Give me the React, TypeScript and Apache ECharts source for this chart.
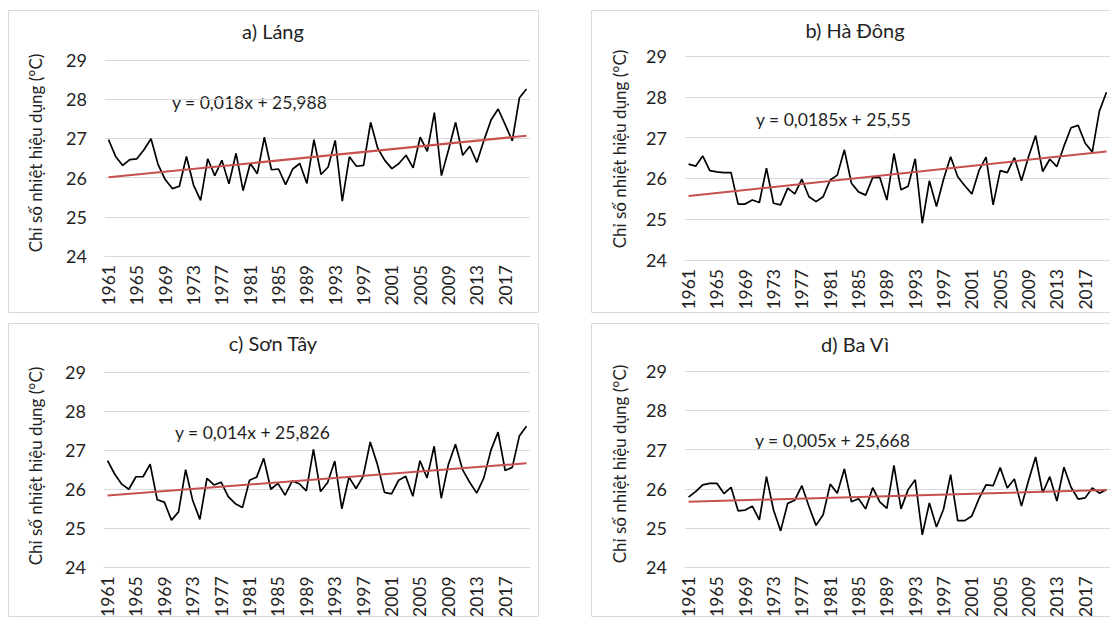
import React, { useEffect, useRef } from "react";
import * as echarts from "echarts";

const YEARS: string[] = [];
for (let y = 1961; y <= 2020; y++) YEARS.push(String(y));

const TITLES = ["a) Láng", "b) Hà Đông", "c) Sơn Tây", "d) Ba Vì"];
const EQUATIONS = [
  "y = 0,018x + 25,988",
  "y = 0,0185x + 25,55",
  "y = 0,014x + 25,826",
  "y = 0,005x + 25,668",
];
const TREND_SLOPE = [0.018, 0.0185, 0.014, 0.005];
const TREND_INTERCEPT = [25.988, 25.55, 25.826, 25.668];
const Y_TICKS = [24, 25, 26, 27, 28, 29];
const Y_TITLE = "Chỉ số nhiệt hiệu dụng (°C)";

const LANG = [
  26.97, 26.54, 26.31, 26.46, 26.48, 26.71, 26.99, 26.33, 25.95, 25.72,
  25.78, 26.54, 25.81, 25.42, 26.48, 26.05, 26.44, 25.84, 26.62, 25.67,
  26.36, 26.10, 27.03, 26.20, 26.22, 25.82, 26.22, 26.36, 25.85, 26.97,
  26.08, 26.27, 26.95, 25.40, 26.53, 26.29, 26.31, 27.41, 26.75, 26.44,
  26.23, 26.36, 26.57, 26.25, 27.03, 26.67, 27.66, 26.05, 26.71, 27.41,
  26.57, 26.80, 26.39, 26.95, 27.47, 27.75, 27.35, 26.94, 28.03, 28.26,
];
const HA_DONG = [
  26.35, 26.30, 26.55, 26.19, 26.16, 26.14, 26.14, 25.37, 25.37, 25.47,
  25.41, 26.25, 25.39, 25.35, 25.76, 25.62, 25.98, 25.55, 25.43, 25.55,
  25.96, 26.08, 26.70, 25.88, 25.67, 25.59, 26.02, 26.03, 25.47, 26.61,
  25.72, 25.81, 26.48, 24.90, 25.94, 25.31, 25.98, 26.53, 26.04, 25.82,
  25.62, 26.19, 26.52, 25.35, 26.19, 26.14, 26.51, 25.94, 26.53, 27.05,
  26.17, 26.47, 26.29, 26.79, 27.24, 27.30, 26.86, 26.65, 27.65, 28.11,
];
const SON_TAY = [
  26.73, 26.39, 26.13, 26.00, 26.32, 26.32, 26.64, 25.73, 25.67, 25.21,
  25.42, 26.50, 25.71, 25.23, 26.28, 26.11, 26.18, 25.81, 25.63, 25.53,
  26.23, 26.31, 26.79, 26.00, 26.15, 25.85, 26.21, 26.14, 25.96, 27.02,
  25.94, 26.17, 26.72, 25.50, 26.31, 26.02, 26.33, 27.21, 26.64, 25.92,
  25.88, 26.23, 26.33, 25.82, 26.73, 26.29, 27.10, 25.77, 26.63, 27.15,
  26.50, 26.18, 25.90, 26.29, 27.00, 27.46, 26.48, 26.56, 27.36, 27.61,
];
const BA_VI = [
  25.79, 25.93, 26.10, 26.14, 26.14, 25.88, 26.04, 25.44, 25.46, 25.56,
  25.21, 26.31, 25.46, 24.93, 25.63, 25.71, 26.08, 25.55, 25.07, 25.34,
  26.12, 25.89, 26.51, 25.67, 25.75, 25.49, 26.03, 25.67, 25.50, 26.60,
  25.49, 25.98, 26.23, 24.83, 25.64, 25.03, 25.48, 26.36, 25.19, 25.19,
  25.31, 25.75, 26.10, 26.08, 26.54, 26.02, 26.25, 25.56, 26.21, 26.81,
  25.90, 26.31, 25.69, 26.55, 26.04, 25.74, 25.77, 26.02, 25.89, 25.98,
];
const SERIES_VALUES = [LANG, HA_DONG, SON_TAY, BA_VI];

const FONT = "Lato, 'Open Sans', sans-serif";
const TEXT = "#1f1f1f";
const GRID_COLOR = "#d9d9d9";

// layout (pixels)
const GRIDS = [
  { left: 105, top: 60, width: 425, height: 196 },
  { left: 685, top: 56, width: 427, height: 204 },
  { left: 104, top: 372, width: 426, height: 199 },
  { left: 685, top: 371, width: 427, height: 201 },
];
const FRAMES = [
  { x: 8, y: 10, w: 530, h: 302 },
  { x: 591, y: 10, w: 540, h: 302 },
  { x: 8, y: 323, w: 530, h: 293 },
  { x: 591, y: 323, w: 540, h: 293 },
];
const TITLE_POS = [
  [273, 31],
  [855, 30],
  [273, 343],
  [855, 344],
];
const EQ_POS = [
  [172, 102],
  [756, 119],
  [175, 432],
  [755, 440],
];
const YTITLE_POS = [
  [35, 153],
  [619, 149],
  [35, 466],
  [619, 464],
];

export default function App() {
  const ref = useRef<HTMLDivElement>(null);
  useEffect(() => {
    document.body.style.margin = "0";
    if (!ref.current) return;
    const chart = echarts.init(ref.current, undefined, { renderer: "svg" });

    const grid = GRIDS.map((g) => ({ ...g, containLabel: false }));
    const xAxis = GRIDS.map((_, i) => ({
      type: "category",
      gridIndex: i,
      data: YEARS,
      boundaryGap: true,
      axisLine: { show: true, lineStyle: { color: GRID_COLOR, width: 1 } },
      axisTick: { show: false },
      axisLabel: {
        interval: 3,
        rotate: 90,
        margin: 9,
        fontSize: 17.5,
        fontFamily: FONT,
        color: TEXT,
      },
      splitLine: { show: false },
    }));
    const yAxis = GRIDS.map((_, i) => ({
      type: "value",
      gridIndex: i,
      min: Y_TICKS[0],
      max: Y_TICKS[Y_TICKS.length - 1],
      interval: 1,
      axisLine: { show: false },
      axisTick: { show: false },
      axisLabel: {
        margin: 18,
        fontSize: 18,
        fontFamily: FONT,
        color: TEXT,
      },
      splitLine: { show: true, lineStyle: { color: GRID_COLOR, width: 1 } },
    }));

    const series: any[] = [];
    SERIES_VALUES.forEach((vals, i) => {
      series.push({
        type: "line",
        xAxisIndex: i,
        yAxisIndex: i,
        data: vals,
        symbol: "none",
        lineStyle: { color: "#000000", width: 1.7 },
        z: 3,
      });
      const n = vals.length;
      const trend = vals.map((_, k) =>
        k === 0 || k === n - 1 ? TREND_SLOPE[i] * (k + 1) + TREND_INTERCEPT[i] : null
      );
      series.push({
        type: "line",
        xAxisIndex: i,
        yAxisIndex: i,
        data: trend,
        connectNulls: true,
        symbol: "none",
        lineStyle: { color: "#c8504c", width: 2 },
        z: 4,
      });
    });

    const graphic: any[] = [];
    FRAMES.forEach((f) => {
      graphic.push({
        type: "rect",
        shape: { x: f.x + 0.5, y: f.y + 0.5, width: f.w, height: f.h },
        style: { fill: "none", stroke: GRID_COLOR, lineWidth: 1 },
        silent: true,
        z: 0,
      });
    });
    TITLES.forEach((t, i) => {
      graphic.push({
        type: "text",
        x: TITLE_POS[i][0],
        y: TITLE_POS[i][1],
        style: {
          text: t,
          fontSize: 20,
          fontFamily: FONT,
          fill: TEXT,
          align: "center",
          verticalAlign: "middle",
        },
        silent: true,
      });
    });
    EQUATIONS.forEach((t, i) => {
      graphic.push({
        type: "text",
        x: EQ_POS[i][0],
        y: EQ_POS[i][1],
        style: {
          text: t,
          fontSize: 17.5,
          fontFamily: FONT,
          fill: TEXT,
          align: "left",
          verticalAlign: "middle",
        },
        silent: true,
      });
    });
    YTITLE_POS.forEach((p) => {
      graphic.push({
        type: "text",
        x: p[0],
        y: p[1],
        rotation: Math.PI / 2,
        style: {
          text: Y_TITLE,
          fontSize: 17,
          fontFamily: FONT,
          fill: TEXT,
          align: "center",
          verticalAlign: "middle",
        },
        silent: true,
      });
    });

    chart.setOption({
      animation: false,
      backgroundColor: "#ffffff",
      grid,
      xAxis,
      yAxis,
      series,
      graphic,
    });
    return () => chart.dispose();
  }, []);
  return <div ref={ref} style={{ width: 1110, height: 620 }} />;
}
